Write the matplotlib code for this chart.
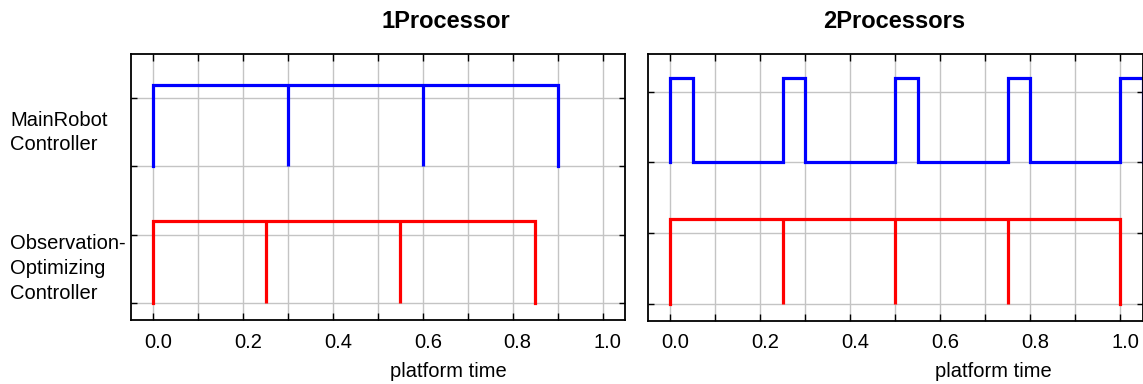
import matplotlib
matplotlib.use("Agg")
import matplotlib.pyplot as plt
from matplotlib import transforms

plt.rcParams['font.family'] = ['Liberation Sans', 'DejaVu Sans']

# Panel titles and row labels
titles = ["1Processor", "2Processors"]
task_labels = ["MainRobot\nController", "Observation-\nOptimizing\nController"]
task_label_y = [2.5, 0.5]

# Single processor: release instants of each controller
main_rel_1 = [0.0, 0.3, 0.6, 0.9]
obs_rel_1 = [0.0, 0.25, 0.55, 0.85]

# Two processors: MainRobot busy pulses, Observation releases
main_pulse_start_2 = [0.0, 0.25, 0.5, 0.75, 1.0]
main_pulse_len_2 = 0.05
obs_rel_2 = [0.0, 0.25, 0.5, 0.75, 1.0]

# Row levels
main_base, main_top = 2.0, 3.2
obs_base, obs_top = 0.0, 1.2

xticks = [0.0, 0.2, 0.4, 0.6, 0.8, 1.0]
xgrid = [i / 10 for i in range(11)]
ygrid = [0, 1, 2, 3]

BLUE = "#0000ff"
RED = "#ff0000"
LW = 2.3

W, H = 1143, 384
fig = plt.figure(figsize=(W / 100, H / 100), dpi=100)

ax1 = fig.add_axes([130.7 / W, (H - 320) / H, 494.3 / W, 266 / H])
ax2 = fig.add_axes([648 / W, (H - 320.7) / H, 494.5 / W, 266.7 / H])


def comb(ax, rel, base, top, color):
    # outer frame of the comb
    ax.plot([rel[0], rel[0], rel[-1], rel[-1]], [base, top, top, base],
            color=color, lw=LW, solid_joinstyle='miter', zorder=3)
    # inner release markers
    ax.vlines(rel[1:-1], base, top, color=color, lw=LW, zorder=3)


def pulses(ax, starts, length, base, top, color):
    xs, ys = [], []
    for s in starts:
        xs += [s, s, s + length, s + length]
        ys += [base, top, top, base]
    ax.plot(xs, ys, color=color, lw=LW, solid_joinstyle='miter', zorder=3)


comb(ax1, main_rel_1, main_base, main_top, BLUE)
comb(ax1, obs_rel_1, obs_base, obs_top, RED)
pulses(ax2, main_pulse_start_2, main_pulse_len_2, main_base, main_top, BLUE)
comb(ax2, obs_rel_2, obs_base, obs_top, RED)

ax1.set_ylim(-0.254, 3.65)
ax2.set_ylim(-0.236, 3.533)

for ax in (ax1, ax2):
    ax.set_xlim(-0.05, 1.05)
    for gx in xgrid:
        ax.axvline(gx, color="#c4c4c4", lw=1.0, zorder=1)
    for gy in ygrid:
        ax.axhline(gy, color="#c4c4c4", lw=1.0, zorder=1)
    for sp in ax.spines.values():
        sp.set_color("black")
        sp.set_linewidth(1.3)
        sp.set_zorder(4)
    ax.set_xticks(xticks)
    ax.set_xticks(xgrid, minor=True)
    ax.set_xticklabels([f"{t:.1f}" for t in xticks])
    ax.set_yticks(ygrid)
    ax.set_yticklabels([])
    ax.tick_params(axis='x', which='both', direction='in', length=4.8, width=1.0,
                   top=True, bottom=True, labelsize=14.5, pad=9.0)
    ax.tick_params(axis='y', which='both', direction='in', length=4.0, width=1.0,
                   left=True, right=True)
    shift = transforms.ScaledTranslation(5 / 100, 0, fig.dpi_scale_trans)
    for lab in ax.get_xticklabels():
        lab.set_transform(lab.get_transform() + shift)

# Row labels on the left
lab_tr = transforms.blended_transform_factory(fig.transFigure, ax1.transData)
for txt, yv in zip(task_labels, task_label_y):
    ax1.text(10 / W, yv, txt, transform=lab_tr, ha='left', va='center',
             fontsize=14.5, linespacing=1.38)

# Titles and axis labels
fig.text(445.8 / W, 1 - 27.5 / H, titles[0], ha='center', va='baseline',
         fontsize=17, fontweight='bold')
fig.text(894 / W, 1 - 28 / H, titles[1], ha='center', va='baseline',
         fontsize=17, fontweight='bold')
fig.text(448.7 / W, 1 - 376.7 / H, "platform time", ha='center', va='baseline',
         fontsize=14.5)
fig.text(993.3 / W, 1 - 376.7 / H, "platform time", ha='center', va='baseline',
         fontsize=14.5)

fig.savefig("out.png", dpi=100)
